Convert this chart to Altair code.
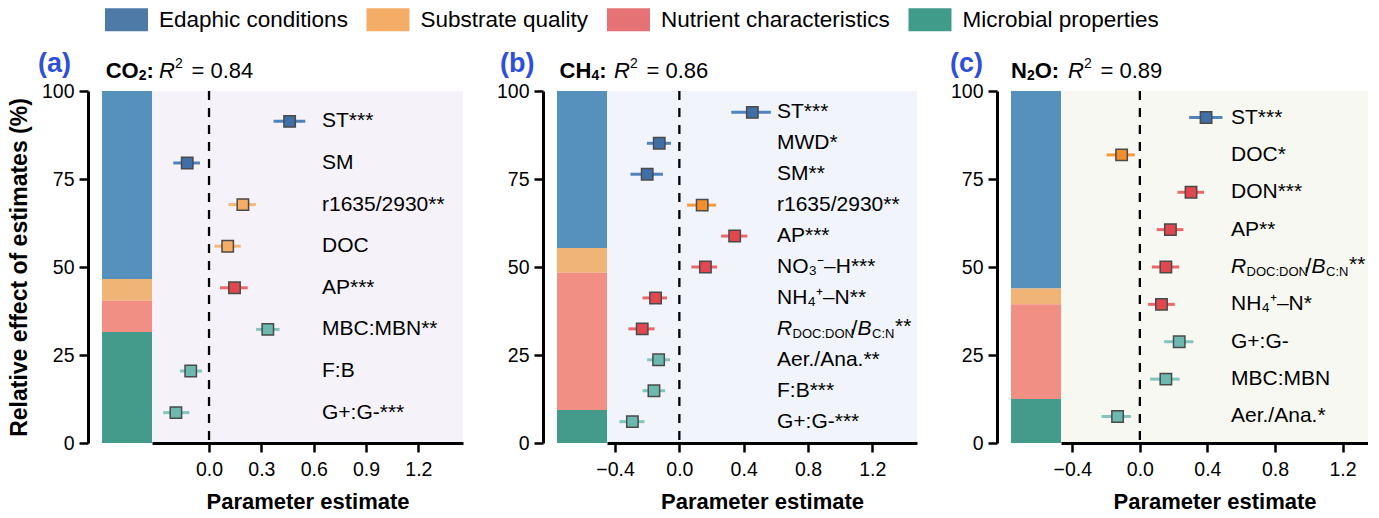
import altair as alt
import pandas as pd

FONT = "Liberation Sans"
BLUE = "#2f4fd8"

groups = ["Edaphic conditions", "Substrate quality", "Nutrient characteristics", "Microbial properties"]
legend_colors = ["#4e7aa7", "#f4ad66", "#e57274", "#409b8a"]
bar_colors = ["#5591bc", "#f0b476", "#f28f84", "#449b8c"]

# relative effect of estimates (%) per group, order as in `groups`
share_a = [53.4, 6.2, 8.9, 31.5]
share_b = [44.6, 7.0, 39.0, 9.4]
share_c = [56.1, 4.5, 26.9, 12.5]

E, S, N, M = groups
RLAB = "R_DOC:DON/B_C:N**"

# (a) CO2
labels_a = ["ST***", "SM", "r1635/2930**", "DOC", "AP***", "MBC:MBN**", "F:B", "G+:G-***"]
groups_a = [E, E, S, S, N, M, M, M]
est_a = [0.462, -0.125, 0.194, 0.107, 0.146, 0.337, -0.105, -0.190]
lo_a = [0.370, -0.205, 0.111, 0.031, 0.063, 0.270, -0.167, -0.263]
hi_a = [0.552, -0.052, 0.268, 0.182, 0.222, 0.404, -0.040, -0.113]

# (b) CH4
labels_b = ["ST***", "MWD*", "SM**", "r1635/2930**", "AP***", "NO₃⁻–H***", "NH₄⁺–N**",
            RLAB, "Aer./Ana.**", "F:B***", "G+:G-***"]
groups_b = [E, E, E, S, N, N, N, N, M, M, M]
est_b = [0.454, -0.125, -0.200, 0.142, 0.344, 0.162, -0.148, -0.231, -0.129, -0.158, -0.292]
lo_b = [0.323, -0.202, -0.304, 0.048, 0.260, 0.075, -0.229, -0.317, -0.200, -0.229, -0.373]
hi_b = [0.569, -0.052, -0.102, 0.229, 0.423, 0.235, -0.077, -0.154, -0.058, -0.088, -0.217]

# (c) N2O
labels_c = ["ST***", "DOC*", "DON***", "AP**", RLAB, "NH₄⁺–N*", "G+:G-", "MBC:MBN", "Aer./Ana.*"]
groups_c = [E, S, N, N, N, N, M, M, M]
est_c = [0.392, -0.108, 0.303, 0.181, 0.154, 0.128, 0.233, 0.154, -0.132]
lo_c = [0.292, -0.197, 0.223, 0.100, 0.071, 0.049, 0.144, 0.061, -0.227]
hi_c = [0.489, -0.030, 0.380, 0.258, 0.233, 0.207, 0.317, 0.236, -0.053]

r2_values = ["0.84", "0.86", "0.89"]
ref_line = [0.0]
ticks_a = [0.0, 0.3, 0.6, 0.9, 1.2]
ticks_bc = [-0.4, 0.0, 0.4, 0.8, 1.2]
y_ticks = [0, 25, 50, 75, 100]

pt_fill_a = ["#3f6fa6", "#f5ae64", "#e0474e", "#6db9b0"]
pt_fill_bc = ["#3f6fa6", "#f28f2c", "#e0474e", "#6db9b0"]
err_a = ["#5083bd", "#f7b778", "#ea676b", "#84c4bc"]
err_bc = ["#5083bd", "#f39a3c", "#ea676b", "#84c4bc"]

H = 352
one = pd.DataFrame({"k": [0]})


def piece(txt, px, py, size, weight="normal", style="normal", color="black"):
    return alt.Chart(one).mark_text(
        text=txt, fontSize=size, fontWeight=weight, fontStyle=style, font=FONT,
        color=color, align="left", baseline="middle"
    ).encode(x=alt.value(px), y=alt.value(py))


def bar_chart(shares, gas, letter, letter_x, show_title, with_legend):
    df = pd.DataFrame({"group": groups, "share": shares, "gidx": list(range(4)), "gas": gas})
    yaxis_kw = dict(values=y_ticks, offset=14, tickSize=9, tickWidth=2.5, domainWidth=3,
                    domainColor="black", tickColor="black", labelColor="black",
                    labelFontSize=19.5, labelPadding=5, grid=False)
    if show_title:
        yaxis_kw.update(title="Relative effect of estimates (%)", titleFontSize=23,
                        titleFontWeight="bold", titlePadding=10, titleColor="black")
    else:
        yaxis_kw.update(title=None)
    xenc = alt.X("gas:N", axis=None, scale=alt.Scale(paddingInner=0, paddingOuter=0))
    yenc = alt.Y("share:Q", stack="zero", scale=alt.Scale(domain=[0, 100], nice=False),
                 axis=alt.Axis(**yaxis_kw))
    order = alt.Order("gidx:Q", sort="descending")
    bars = alt.Chart(df).mark_bar().encode(
        x=xenc, y=yenc,
        color=alt.Color("group:N", scale=alt.Scale(domain=groups, range=bar_colors), legend=None),
        order=order,
    )
    layers = [bars]
    if with_legend:
        # legend-only layer: no rows drawn, the legend comes from the explicit fill domain
        leg = alt.Chart(df).transform_filter("datum.share < 0").mark_bar().encode(
            x=xenc, y=yenc, order=order,
            fill=alt.Fill("group:N", scale=alt.Scale(domain=groups, range=legend_colors),
                          legend=alt.Legend(
                              orient="none", legendX=13, legendY=-82.7, direction="horizontal",
                              columns=4, title=None, padding=0,
                              symbolType="M-1.87,-1L1.87,-1L1.87,1L-1.87,1Z",
                              symbolSize=529, symbolOpacity=1, symbolStrokeWidth=0,
                              labelFontSize=22.5, labelFont=FONT, labelColor="black",
                              labelOffset=21, columnPadding=17.5, labelLimit=400)),
        )
        layers.append(leg)
    layers.append(piece(letter, letter_x, -27, 27, weight="bold", color=BLUE))
    return alt.layer(*layers).properties(width=50, height=H, view=alt.ViewBackground(strokeWidth=0))


def forest(labels, grp, est, lo, hi, xdom, xticks, ypad, bg, width, fills, errs, gas_pieces, r2):
    df = pd.DataFrame({"label": labels, "group": grp, "est": est, "lo": lo, "hi": hi})
    df["disp"] = ["" if l == RLAB else l for l in labels]
    xs = alt.Scale(domain=xdom, nice=False, zero=False)
    xa = alt.Axis(values=xticks, format=".1f", title="Parameter estimate", titleFontSize=22,
                  titleFontWeight="bold", titleColor="black", titlePadding=13,
                  labelFontSize=19.5, labelColor="black", labelPadding=8, labelFlush=False,
                  tickSize=9, tickWidth=2.5, tickColor="black", domainColor="black",
                  domainWidth=3, grid=False)
    ys = alt.Y("label:N", sort=labels, scale=alt.Scale(type="point", padding=ypad), axis=None)
    base = alt.Chart(df)
    zero = alt.Chart(pd.DataFrame({"ref": ref_line})).mark_rule(
        color="black", strokeWidth=2.3, strokeDash=[9, 8]
    ).encode(x=alt.X("ref:Q", scale=xs, axis=xa))
    err = base.mark_rule(strokeWidth=3).encode(
        x=alt.X("lo:Q", scale=xs, axis=xa), x2="hi:Q", y=ys,
        stroke=alt.Stroke("group:N", scale=alt.Scale(domain=groups, range=errs), legend=None),
    )
    pts = base.mark_square(size=130, filled=True, opacity=1, stroke="#4a4a4a", strokeWidth=1.5).encode(
        x=alt.X("est:Q", scale=xs, axis=xa), y=ys,
        color=alt.Color("group:N", scale=alt.Scale(domain=groups, range=fills), legend=None),
    )
    txt = base.mark_text(align="left", baseline="middle", fontSize=21, font=FONT, color="black").encode(
        x=alt.value(170), y=ys, text="disp:N"
    )
    layers = [zero, err, pts, txt]
    if RLAB in labels:
        rb = base.transform_filter(alt.datum.label == RLAB)
        for t, dx, size, style, dy in [("R", 0, 21, "italic", 0), ("DOC:DON", 15.5, 13, "normal", 5),
                                       ("/", 74.5, 21, "normal", 0), ("B", 80.5, 21, "italic", 0),
                                       ("C:N", 95, 13, "normal", 5), ("**", 118, 21, "normal", -2)]:
            layers.append(rb.mark_text(text=t, align="left", baseline="middle", fontSize=size,
                                       fontStyle=style, font=FONT, color="black", dx=dx, dy=dy)
                          .encode(x=alt.value(170), y=ys))
    ty = -19.7
    for t, px, size, dy in gas_pieces:
        layers.append(piece(t, px, ty + dy, size, weight="bold"))
    layers.append(piece("R", 7, ty, 22, style="italic"))
    layers.append(piece("2", 22.9, ty - 7, 14))
    layers.append(piece("= " + r2, 39.5, ty, 22))
    return alt.layer(*layers).properties(width=width, height=H,
                                         view=alt.ViewBackground(fill=bg, strokeWidth=0))


def spacer():
    return alt.Chart(one).mark_point(opacity=0).encode(
        x=alt.value(0), y=alt.value(0)
    ).properties(width=94, height=H, view=alt.ViewBackground(strokeWidth=0))


bar_a = bar_chart(share_a, "CO2", "(a)", -64, True, True)
bar_b = bar_chart(share_b, "CH4", "(b)", -57, False, False)
bar_c = bar_chart(share_c, "N2O", "(c)", -61, False, False)

for_a = forest(labels_a, groups_a, est_a, lo_a, hi_a, [-0.327, 1.456], ticks_a, 0.73, "#f5f3f9", 311,
               pt_fill_a, err_a, [("CO", -46.3, 22, 0), ("2", -13.3, 14, 5), (":", -5.6, 22, 0)], r2_values[0])
for_b = forest(labels_b, groups_b, est_b, lo_b, hi_b, [-0.45, 1.478], ticks_bc, 0.69, "#f1f5fb", 310,
               pt_fill_bc, err_bc, [("CH", -47.4, 22, 0), ("4", -15.6, 14, 5), (":", -7.8, 22, 0)], r2_values[1])
for_c = forest(labels_c, groups_c, est_c, lo_c, hi_c, [-0.467, 1.351], ticks_bc, 0.71, "#f8f8f3", 307,
               pt_fill_bc, err_bc, [("N", -50, 22, 0), ("2", -34.1, 14, 5), ("O:", -26.3, 22, 0)], r2_values[2])

chart = alt.hconcat(bar_a, for_a, spacer(), bar_b, for_b, spacer(), bar_c, for_c,
                    spacing=0, bounds="flush").resolve_scale(
    color="independent", stroke="independent", y="independent", x="independent"
).properties(padding={"left": 0, "top": 0, "right": 0, "bottom": 0}).configure_view(
    strokeWidth=0
).configure(background="white", font=FONT)

chart.save("out.html", embed_options={"renderer": "svg", "actions": False})
